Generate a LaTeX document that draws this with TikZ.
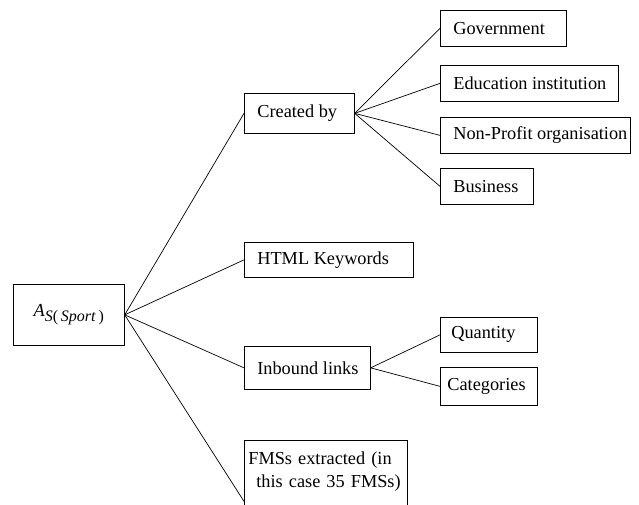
\documentclass[tikz,border=0pt]{standalone}
\usepackage{fontspec}
\setmainfont{Liberation Serif}
\usetikzlibrary{calc}
\tikzstyle{box}=[draw,anchor=north west,inner sep=0pt]
\tikzset{lefttext/.style 2 args={minimum width=#1,
  execute at begin node={\hbox to #1\bgroup\hskip #2\relax},
  execute at end node={\hfil\egroup}}}

\begin{document}
\begin{tikzpicture}[x=1pt, y=-1pt, line width=0.7pt,
  every node/.style={font=\fontsize{18.3}{23.5}\selectfont}]
\useasboundingbox (0,0) rectangle (639,504);

\node [box, minimum width=111, minimum height=61] (root) at (13,284)
  {\textit{A}\raisebox{-5pt}{\fontsize{16}{16}\selectfont\textit{S}(\,\textit{Sport}\,)}};

\node [box, lefttext={110pt}{13pt}, minimum height=40] (created) at (244,93) {Created by};
\node [box, lefttext={169pt}{13pt}, minimum height=35] (html) at (244,242) {HTML Keywords};
\node [box, lefttext={126pt}{13pt}, minimum height=43] (inbound) at (244,346) {Inbound links};
\node [box, text width=155pt, align=left, inner xsep=4pt, inner ysep=11pt,
  text height=13pt, text depth=87pt] (fms) at (244,440)
  {FMSs extracted (in\\ \hspace*{8pt}this case 35 FMSs)};

% sources of the site
\foreach \n/\t/\y/\w in {gov/Government/10/126, edu/Education institution/65/178,
    nonprofit/Non-Profit organisation/117/190, business/Business/168/93}
  \node [box, lefttext={\w pt}{13pt}, minimum height=36] (\n) at (440,\y) {\t};

% links
\node [box, lefttext={97pt}{11pt}, minimum height=35] (quantity) at (440,317) {Quantity};
\node [box, lefttext={97pt}{7pt}, minimum height=38] (categories) at (440,367) {Categories};

\foreach \n in {created,html,inbound,fms}
  \draw (root.east) -- (\n.west);

\foreach \n in {gov,edu,nonprofit,business}
  \draw (created.east) -- (\n.west);

\foreach \n in {quantity,categories}
  \draw (inbound.east) -- (\n.west);

\end{tikzpicture}
\end{document}
